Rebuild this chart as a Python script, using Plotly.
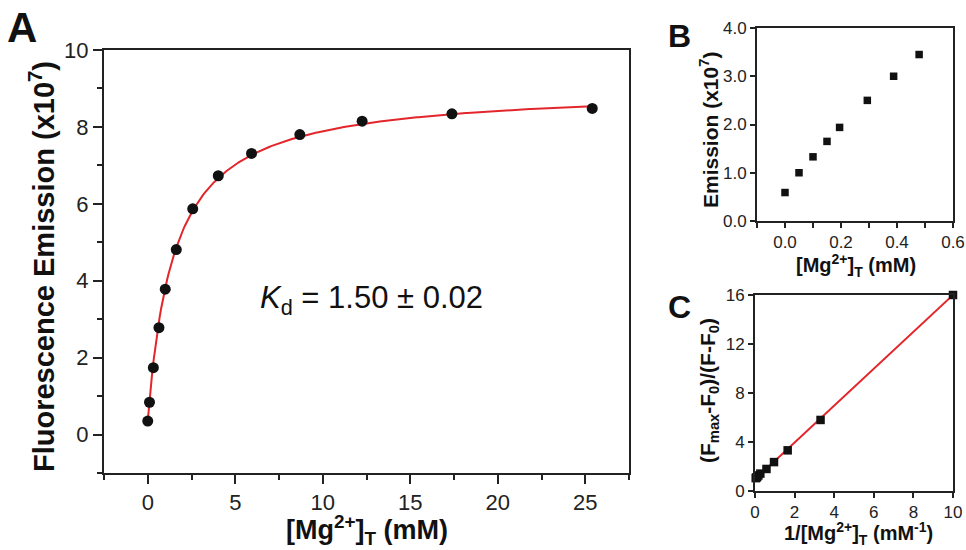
import numpy as np
import plotly.graph_objects as go

# ---------------- data ----------------
# Panel A: titration
a_mg = [0.0, 0.1, 0.32, 0.64, 1.0, 1.63, 2.57, 4.03, 5.93, 8.69, 12.25, 17.38, 25.4]
a_emission = [0.35, 0.84, 1.74, 2.78, 3.78, 4.81, 5.87, 6.73, 7.31, 7.80, 8.15, 8.34, 8.48]
kd_value = 1.50
a_f0 = 0.35
a_fmax = 9.02

# Panel B: low-concentration region
b_mg = [0.0, 0.05, 0.10, 0.15, 0.195, 0.294, 0.388, 0.479]
b_emission = [0.59, 1.0, 1.33, 1.65, 1.94, 2.50, 3.0, 3.45]

# Panel C: double reciprocal
c_inv_mg = [10.0, 3.31, 1.65, 0.96, 0.58, 0.27, 0.17, 0.115, 0.08, 0.057, 0.039]
c_ratio = [16.0, 5.8, 3.32, 2.36, 1.8, 1.42, 1.27, 1.18, 1.12, 1.08, 1.05]
c_intercept = 0.95
c_slope = 1.505

# ---------------- helpers ----------------
W, H = 966, 550
def xd(p0, p1):
    return [p0 / W, p1 / W]
def yd(top, bottom):
    return [1 - bottom / H, 1 - top / H]

RED = "#e2262b"
AX = "#222222"
FONT = "Liberation Sans, Arial, sans-serif"

fig = go.Figure()

# fit curve for A (hyperbolic binding model with Kd)
xf = np.linspace(0, 25.4, 300)
yf = a_f0 + (a_fmax - a_f0) * xf / (kd_value + xf)
fig.add_trace(go.Scatter(x=xf, y=yf, mode="lines", line=dict(color=RED, width=2),
                         xaxis="x", yaxis="y", hoverinfo="skip"))
fig.add_trace(go.Scatter(x=a_mg, y=a_emission, mode="markers",
                         marker=dict(color="#111111", size=11, symbol="circle"),
                         xaxis="x", yaxis="y", cliponaxis=False))

fig.add_trace(go.Scatter(x=b_mg, y=b_emission, mode="markers",
                         marker=dict(color="#111111", size=7.5, symbol="square"),
                         xaxis="x2", yaxis="y2", cliponaxis=False))

xl = np.array([0.0, 10.0])
fig.add_trace(go.Scatter(x=xl, y=c_intercept + c_slope * xl, mode="lines",
                         line=dict(color=RED, width=2), xaxis="x3", yaxis="y3",
                         cliponaxis=False))
fig.add_trace(go.Scatter(x=c_inv_mg, y=c_ratio, mode="markers",
                         marker=dict(color="#111111", size=8.5, symbol="square"),
                         xaxis="x3", yaxis="y3", cliponaxis=False))

def axis(domain, rng, dtick, fsize, anchor, minor=None, fmt=None, ticklen=8):
    d = dict(domain=domain, range=rng, dtick=dtick, tick0=0, showgrid=False, zeroline=False,
             showline=True, linecolor=AX, linewidth=2, mirror=True, automargin=False,
             ticks="outside", ticklen=ticklen, tickwidth=2, tickcolor=AX,
             tickfont=dict(family=FONT, size=fsize, color=AX), anchor=anchor)
    if minor is not None:
        d["minor"] = dict(dtick=minor[0], tick0=0, ticks="outside", ticklen=minor[1],
                          tickwidth=2, tickcolor=AX, showgrid=False)
    if fmt:
        d["tickformat"] = fmt
    return d

fig.update_layout(
    width=W, height=H, margin=dict(l=0, r=0, t=0, b=0, autoexpand=False),
    paper_bgcolor="white", plot_bgcolor="white", showlegend=False,
    font=dict(family=FONT, color=AX),
    xaxis=axis(xd(104, 629), [-2.5, 27.5], 5, 22, "y", minor=(2.5, 5), ticklen=9),
    yaxis=axis(yd(50, 473), [-1, 10], 2, 22, "x", minor=(1, 5), ticklen=9),
    xaxis2=axis(xd(757, 953), [-0.1, 0.6], 0.2, 17, "y2", minor=(0.1, 5), fmt=".1f", ticklen=5),
    yaxis2=axis(yd(28, 221), [0, 4], 1, 17, "x2", fmt=".1f", ticklen=5),
    xaxis3=axis(xd(755, 953), [0, 10], 2, 17, "y3", ticklen=5),
    yaxis3=axis(yd(295, 491), [0, 16], 4, 17, "x3", ticklen=5),
)

def ann(text, x, y, size, bold=True, angle=0):
    fig.add_annotation(text=("<b>%s</b>" % text) if bold else text,
                       x=x / W, y=1 - y / H, xref="paper", yref="paper",
                       xanchor="center", yanchor="middle", showarrow=False,
                       textangle=angle, font=dict(family=FONT, size=size, color="#111111"))

# panel labels
ann("A", 22, 28, 42)
ann("B", 679, 36, 32)
ann("C", 679, 307, 32)

# panel A titles
ann("Fluorescence Emission (x10<sup>7</sup>)", 42, 267, 29, angle=-90)
ann("[Mg<sup>2+</sup>]<sub>T</sub> (mM)", 367, 530, 27)
ann("<i>K</i><sub>d</sub> = 1.50 ± 0.02", 371, 300, 31, bold=False)

# panel B titles
ann("Emission (x10<sup>7</sup>)", 709, 130, 21, angle=-90)
ann("[Mg<sup>2+</sup>]<sub>T</sub> (mM)", 856, 265, 20)

# panel C titles
ann("(F<sub>max</sub>-F<sub>0</sub>)/(F-F<sub>0</sub>)", 709, 391, 21, angle=-90)
ann("1/[Mg<sup>2+</sup>]<sub>T</sub> (mM<sup>-1</sup>)", 858, 533, 20)

fig.write_html("out.html", config={"displayModeBar": False},
               post_script="document.body.style.margin='0px';")
